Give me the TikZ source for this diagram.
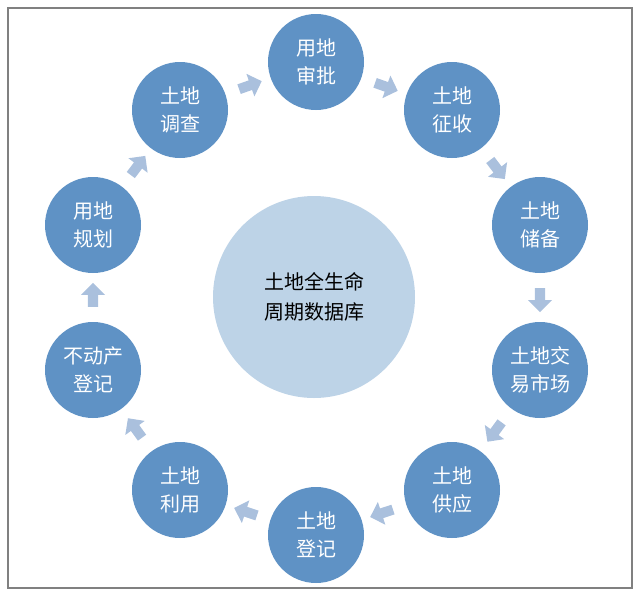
\documentclass[tikz,border=0pt]{standalone}
\usepackage{fontspec}
\setmainfont{Noto Sans CJK SC}
\usetikzlibrary{shapes.arrows}
\definecolor{cblue}{HTML}{5F92C5}
\definecolor{clight}{HTML}{BDD3E7}
\definecolor{carrow}{HTML}{AAC0DD}
\tikzset{
 stage/.style={circle,fill=cblue,minimum size=96pt,inner sep=0pt,text=white,font=\fontsize{20}{28}\selectfont,align=center},
 flow/.style={single arrow,fill=carrow,draw=none,minimum height=24pt,minimum width=24pt,single arrow head extend=3pt,inner sep=2pt}
}
\begin{document}
\begin{tikzpicture}[x=1pt,y=-1pt]
\useasboundingbox (0,0) rectangle (640,595);
\draw[gray,line width=1.2pt] (8,8) rectangle (632,588);
\node[circle,fill=clight,minimum size=202pt,inner sep=0pt,font=\fontsize{20}{30}\selectfont,align=center] (c) at (314,297) {土地全生命\\周期数据库};
\node[stage] (n1) at (316,62) {用地\\审批};
\node[stage] (n2) at (452,110) {土地\\征收};
\node[stage] (n3) at (540,225) {土地\\储备};
\node[stage] (n4) at (540,370) {土地交\\易市场};
\node[stage] (n5) at (452,490) {土地\\供应};
\node[stage] (n6) at (316,535) {土地\\登记};
\node[stage] (n7) at (180,490) {土地\\利用};
\node[stage] (n8) at (93,370) {不动产\\登记};
\node[stage] (n9) at (93,225) {用地\\规划};
\node[stage] (n10) at (180,110) {土地\\调查};
\foreach \a/\b in {n10/n1,n1/n2,n2/n3,n3/n4,n4/n5,n5/n6,n6/n7,n7/n8,n8/n9,n9/n10}
  \path (\a) -- (\b) node[midway,sloped,allow upside down,flow] (ar-\a) {};
\end{tikzpicture}
\end{document}
